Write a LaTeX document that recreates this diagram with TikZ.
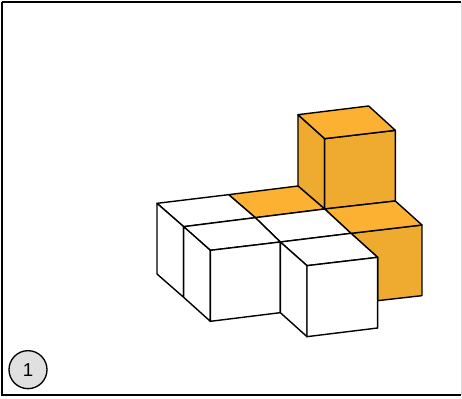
\documentclass[tikz,border=0pt]{standalone}
\usepackage{fontspec}
\setmainfont{Liberation Sans}
\definecolor{topor}{HTML}{FDB132}
\definecolor{sideor}{HTML}{EEAB30}
\definecolor{badge}{HTML}{E0E0E0}
\tikzset{
  edge/.style={draw=black,line width=1.05pt,line join=round},
  wface/.style={edge,fill=white},
  topface/.style={edge,fill=topor},
  sideface/.style={edge,fill=sideor},
  frame/.style={draw=black,line width=1.3pt},
  badgenode/.style={circle,draw=black,line width=1pt,fill=badge,minimum size=28.5pt,inner sep=0pt,font=\fontsize{14pt}{16pt}\selectfont}
}
\begin{document}
\begin{tikzpicture}[x=0.25pt,y=-0.25pt]
% all coordinates are in thirds of a reference pixel
\useasboundingbox (0,0) rectangle (1386,1197);
\fill[white] (0,0) rectangle (1386,1197);
\draw[frame] (5,5) -- (1384,5);
\draw[frame] (5,5) -- (5,1184) -- (1384,1184);
\draw[draw=black!15,line width=0.8pt] (1384,5) -- (1384,1184);
\begin{scope}[shift={(421,270)}]
% tall orange column
\path[sideface] (473,74) -- (553,146) -- (553,357) -- (473,288) -- cycle;
\path[sideface] (553,146) -- (765,121) -- (765,333) -- (553,357) -- cycle;
\path[topface] (473,74) -- (685,48) -- (765,121) -- (553,146) -- cycle;
% lower orange cube
\path[sideface] (632,430) -- (845,405) -- (845,617) -- (712,632) -- (712,502) -- cycle;
\path[topface] (553,357) -- (765,333) -- (845,405) -- (632,430) -- cycle;
\path[topface] (265,314) -- (473,288) -- (553,357) -- (345,383) -- cycle;
% white tiles
\path[wface] (50,340) -- (265,314) -- (345,383) -- (130,410) -- cycle;
\path[wface] (345,383) -- (553,357) -- (632,430) -- (420,456) -- cycle;
% back-left cube side
\path[wface] (50,340) -- (130,410) -- (130,622) -- (50,552) -- cycle;
% front-left cube
\path[wface] (130,410) -- (345,383) -- (420,456) -- (210,481) -- cycle;
\path[wface] (130,410) -- (210,481) -- (210,694) -- (130,622) -- cycle;
\path[wface] (210,481) -- (420,456) -- (420,668) -- (210,694) -- cycle;
% front-right cube
\path[wface] (420,456) -- (632,430) -- (712,502) -- (500,527) -- cycle;
\path[wface] (420,456) -- (500,527) -- (500,740) -- (420,668) -- cycle;
\path[wface] (500,527) -- (712,502) -- (712,714) -- (500,740) -- cycle;
\end{scope}
\node[badgenode] (badge1) at (84,1109) {1};
\end{tikzpicture}
\end{document}
